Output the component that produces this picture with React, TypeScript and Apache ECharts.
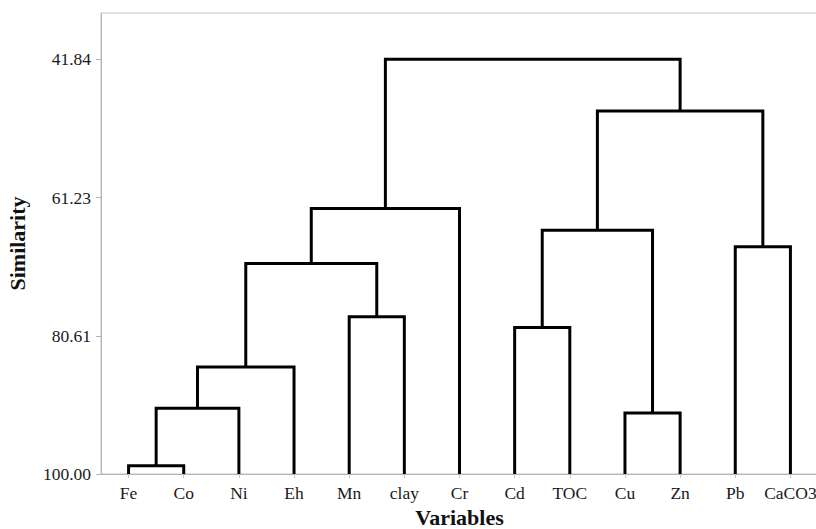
import React, { useEffect, useRef } from "react";
import * as echarts from "echarts";

const variables = ["Fe", "Co", "Ni", "Eh", "Mn", "clay", "Cr", "Cd", "TOC", "Cu", "Zn", "Pb", "CaCO3"];
// merges: [left node, right node, similarity level]; nodes 0..12 are leaves, 13.. are clusters
const mergeLeft = [0, 13, 14, 4, 15, 17, 7, 9, 19, 11, 21, 18];
const mergeRight = [1, 2, 3, 5, 16, 6, 8, 10, 20, 12, 22, 23];
const mergeLevel = [98.84, 90.79, 85.0, 77.95, 70.47, 62.76, 79.44, 91.45, 65.8, 68.14, 49.08, 41.84];
const yTicks = [41.84, 61.23, 80.61, 100.0];

export default function App() {
  const ref = useRef<HTMLDivElement>(null);
  useEffect(() => {
    if (!ref.current) return;
    const chart = echarts.init(ref.current, undefined, { renderer: "svg" });
    const nodeX: number[] = variables.map((_, i) => i);
    const nodeY: number[] = variables.map(() => 100);
    const series: any[] = [];
    mergeLeft.forEach((l, k) => {
      const r = mergeRight[k];
      const h = mergeLevel[k];
      const xl = nodeX[l], xr = nodeX[r];
      series.push({
        type: "line",
        xAxisIndex: 1,
        yAxisIndex: 0,
        data: [[xl, nodeY[l]], [xl, h], [xr, h], [xr, nodeY[r]]],
        symbol: "none",
        silent: true,
        lineStyle: { color: "#000", width: 3, join: "miter", cap: "butt" },
      });
      nodeX.push((xl + xr) / 2);
      nodeY.push(h);
    });
    const font = "'Liberation Serif', 'Times New Roman', serif";
    chart.setOption({
      animation: false,
      grid: {
        left: 101,
        top: 13,
        right: -2,
        bottom: 55,
        containLabel: false,
        outerBoundsMode: "none",
        show: true,
        borderColor: "#c4c4c4",
        borderWidth: 1,
      },
      xAxis: [
        {
          type: "category",
          data: variables,
          boundaryGap: true,
          name: "Variables",
          nameLocation: "middle",
          nameGap: 32,
          nameTextStyle: { fontFamily: font, fontSize: 22, fontWeight: "bold", color: "#111" },
          axisLine: { show: true, lineStyle: { color: "#b4b4b4", width: 1 } },
          axisTick: { show: true, alignWithLabel: true, length: 4, interval: 0, lineStyle: { color: "#c8c8c8" } },
          axisLabel: { fontFamily: font, fontSize: 17.5, color: "#1a1a1a", margin: 10, interval: 0 },
          splitLine: { show: false },
        },
        {
          type: "value",
          min: -0.5,
          max: 12.5,
          show: false,
        },
      ],
      yAxis: {
        type: "value",
        inverse: true,
        min: 35.34,
        max: 100,
        name: "Similarity",
        nameLocation: "middle",
        nameGap: 73,
        nameRotate: 90,
        nameTextStyle: { fontFamily: font, fontSize: 22, fontWeight: "bold", color: "#111" },
        axisLine: { show: true, onZero: false, lineStyle: { color: "#b4b4b4", width: 1 } },
        axisTick: { show: true, length: 5, customValues: yTicks, lineStyle: { color: "#b4b4b4" } },
        axisLabel: {
          fontFamily: font,
          fontSize: 17.5,
          color: "#1a1a1a",
          margin: 10,
          customValues: yTicks,
          formatter: (v: number) => v.toFixed(2),
        },
        splitLine: { show: false },
      },
      series,
    });
    return () => chart.dispose();
  }, []);
  return (
    <div
      ref={ref}
      style={{ position: "absolute", left: 0, top: 0, width: 816, height: 529, background: "#fff" }}
    />
  );
}
